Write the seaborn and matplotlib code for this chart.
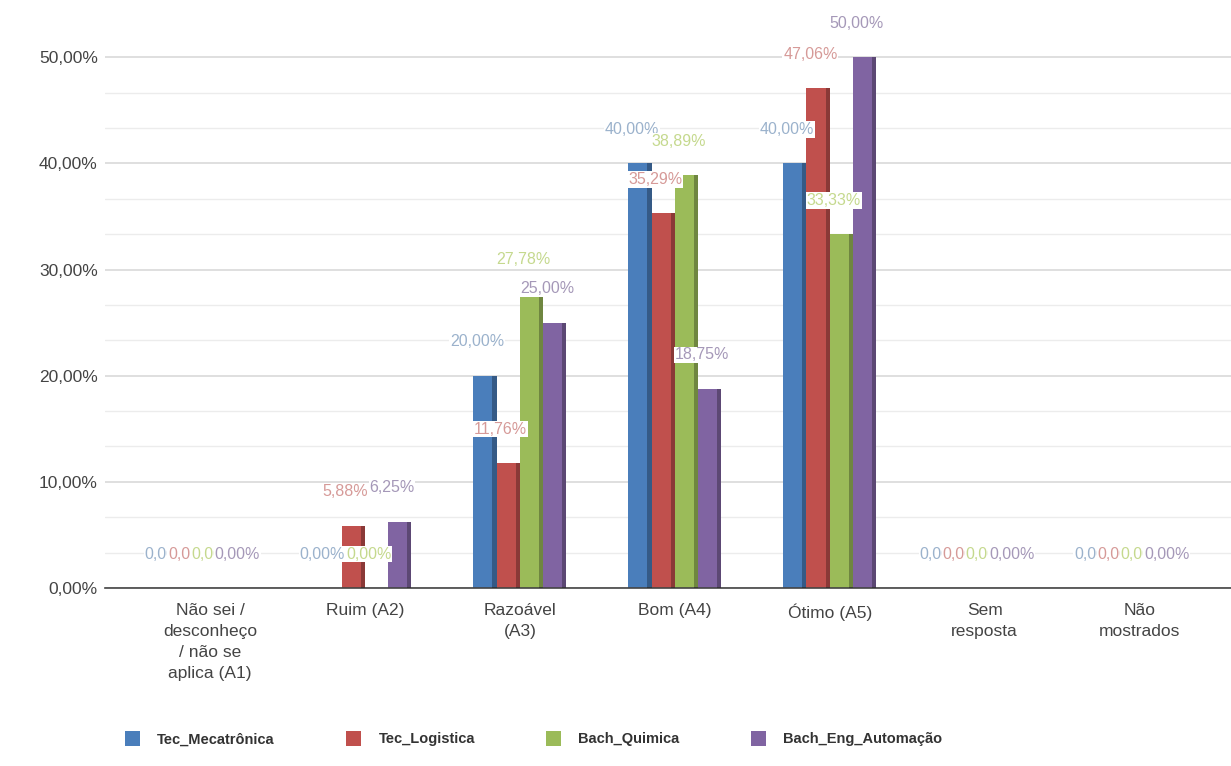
import pandas as pd
import matplotlib.pyplot as plt
import seaborn as sns
from matplotlib.ticker import MultipleLocator, FuncFormatter

categories = [
    "Não sei /\ndesconheço\n/ não se\naplica (A1)",
    "Ruim (A2)",
    "Razoável\n(A3)",
    "Bom (A4)",
    "Ótimo (A5)",
    "Sem\nresposta",
    "Não\nmostrados",
]
series = ["Tec_Mecatrônica", "Tec_Logistica", "Bach_Quimica", "Bach_Eng_Automação"]
tec_mecatronica = [0.0, 0.0, 20.00, 40.00, 40.00, 0.0, 0.0]
tec_logistica = [0.0, 5.88, 11.76, 35.29, 47.06, 0.0, 0.0]
bach_quimica = [0.0, 0.0, 27.78, 38.89, 33.33, 0.0, 0.0]
bach_eng_automacao = [0.0, 6.25, 25.00, 18.75, 50.00, 0.0, 0.0]

colors = ["#4a7ebb", "#c0504d", "#9bbb59", "#8064a2"]
label_colors = ["#9bb2cc", "#d69a98", "#c5d98e", "#a598b8"]

df = pd.DataFrame({
    "categoria": categories * 4,
    "serie": [s for s in series for _ in categories],
    "valor": tec_mecatronica + tec_logistica + bach_quimica + bach_eng_automacao,
})


def pct(v):
    return f"{v:.2f}%".replace(".", ",")


sns.set_theme(style="white")
plt.rcParams["font.family"] = ["Liberation Sans", "DejaVu Sans"]

fig, ax = plt.subplots(figsize=(12.31, 7.66), dpi=100)
fig.subplots_adjust(left=0.085, right=1.0, top=0.953, bottom=0.2324)

sns.barplot(
    data=df, x="categoria", y="valor", hue="serie", palette=colors,
    width=0.6, gap=0.0, saturation=1, linewidth=0, ax=ax, legend=True,
)

# darker side to hint the 3D look of the original
for patch in list(ax.patches):
    h = patch.get_height()
    if h <= 0:
        continue
    x0, w = patch.get_x(), patch.get_width()
    ax.bar(x0 + w * 0.82, h, width=w * 0.18, align="edge",
           color="black", alpha=0.28, linewidth=0, zorder=3)

for container, lc in zip(ax.containers, label_colors):
    for patch in container:
        v = patch.get_height()
        ax.text(
            patch.get_x() + patch.get_width() / 2 - 0.05, v + 3.2, pct(v),
            ha="center", va="center", fontsize=11.5, color=lc, zorder=5,
            bbox=dict(boxstyle="square,pad=0.05", fc="white", ec="none"),
        )

ax.set_ylim(0, 52)
ax.set_xlim(-0.68, 6.59)
ax.yaxis.set_major_locator(MultipleLocator(10))
ax.yaxis.set_minor_locator(MultipleLocator(10 / 3))
ax.yaxis.set_major_formatter(FuncFormatter(lambda v, _: pct(v)))
ax.grid(axis="y", which="major", color="#d9d9d9", linewidth=1.2)
ax.grid(axis="y", which="minor", color="#ececec", linewidth=1.0)
ax.set_axisbelow(True)
for side in ["top", "right", "left"]:
    ax.spines[side].set_visible(False)
ax.spines["bottom"].set_color("#444444")
ax.spines["bottom"].set_linewidth(1.2)
ax.tick_params(axis="y", which="both", length=0, labelsize=12.5, labelcolor="#444444", pad=5)
ax.tick_params(axis="x", length=0, labelsize=12.5, labelcolor="#444444", pad=11)
for lbl in ax.get_xticklabels():
    lbl.set_linespacing(1.5)
ax.set_xlabel("")
ax.set_ylabel("")

handles, labels = ax.get_legend_handles_labels()
ax.legend(
    handles, labels, loc="center", bbox_to_anchor=(0.381, -0.273), ncol=4,
    frameon=False, prop={"weight": "bold", "size": 10.5}, labelcolor="#333333",
    handlelength=1.0, handleheight=1.2, columnspacing=4.9, handletextpad=1.2,
)

plt.savefig("out.png", dpi=100)
